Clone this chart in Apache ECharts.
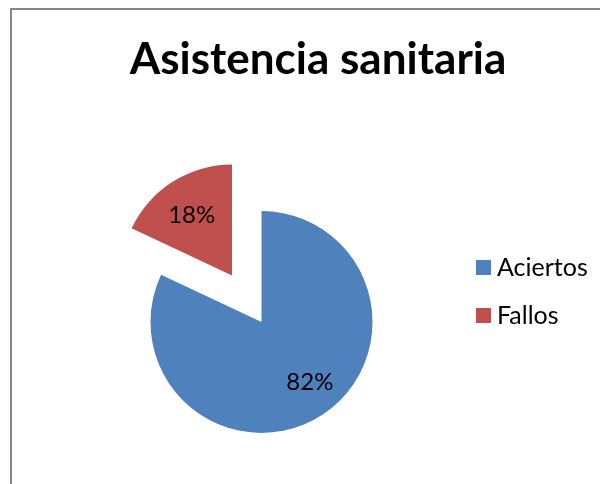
<!DOCTYPE html>
<html>
<head>
<meta charset="utf-8">
<script src="https://cdn.jsdelivr.net/npm/echarts@6/dist/echarts.min.js"></script>
<style>html,body{margin:0;padding:0;background:#fff}#c{width:600px;height:484px}</style>
</head>
<body>
<div id="c"></div>
<script>
const titleText = 'Asistencia sanitaria';
const categories = ['Aciertos', 'Fallos'];
const values = [82, 18];
const colors = ['#4F81BD', '#C0504D'];
const explodedIndex = 1;

const chart = echarts.init(document.getElementById('c'), null, {renderer: 'canvas'});
const FONT = 'Lato';
const labelShift = [[17, 11], [-9, -11]];

chart.setOption({
  animation: false,
  backgroundColor: '#fff',
  graphic: [{
    type: 'rect', shape: {x: 11, y: 9, width: 800, height: 800},
    style: {fill: 'none', stroke: '#878787', lineWidth: 2}, silent: true, z: -1
  }],
  title: {
    text: titleText, left: 313, top: 33, textAlign: 'center',
    textStyle: {fontFamily: FONT, fontWeight: 'bold', fontSize: 44, color: '#000'}
  },
  legend: {
    orient: 'vertical', left: 471, top: 250, itemWidth: 15, itemHeight: 15, itemGap: 23,
    icon: 'rect', data: categories,
    textStyle: {fontFamily: FONT, fontSize: 25, color: '#000', padding: [0,0,0,1]}
  },
  series: [{
    type: 'pie', center: [261.5, 322], radius: 111, startAngle: 90, clockwise: true,
    selectedMode: 'single', selectedOffset: 55,
    emphasis: {disabled: true}, silent: true,
    label: {show: true, position: 'inside', formatter: '{d}%', fontFamily: FONT, fontSize: 24, color: '#000'},
    labelLine: {show: false},
    labelLayout: function (p) { const s = labelShift[p.dataIndex]; return {dx: s[0], dy: s[1]}; },
    data: categories.map((n, i) => ({name: n, value: values[i], selected: i === explodedIndex, itemStyle: {color: colors[i]}}))
  }]
});
</script>
</body>
</html>
